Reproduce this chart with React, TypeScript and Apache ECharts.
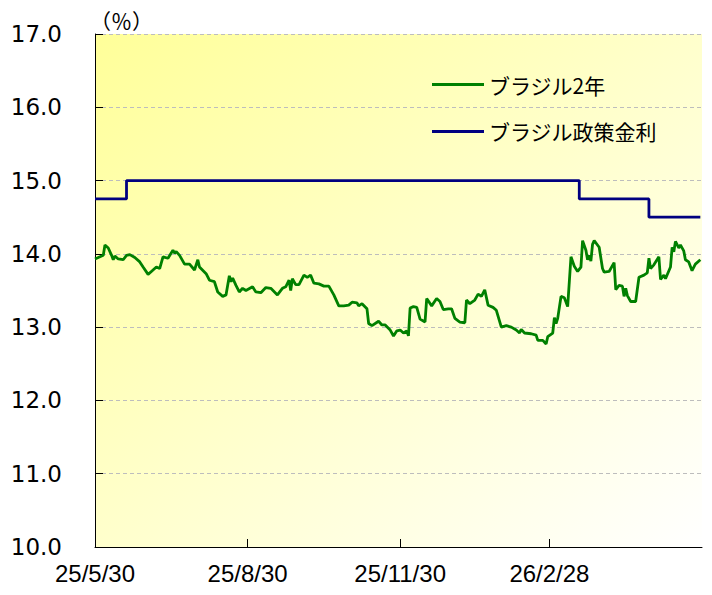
import React, { useEffect, useRef } from "react";
import * as echarts from "echarts";

const seriesNames = ["ブラジル2年", "ブラジル政策金利"];

const yieldDates = [
  "2025-05-30", "2025-06-04", "2025-06-05", "2025-06-07", "2025-06-09", "2025-06-10", "2025-06-11", "2025-06-13",
  "2025-06-16", "2025-06-18", "2025-06-20", "2025-06-23", "2025-06-26", "2025-06-28", "2025-07-01", "2025-07-03",
  "2025-07-06", "2025-07-08", "2025-07-10", "2025-07-13", "2025-07-16", "2025-07-17", "2025-07-18", "2025-07-20",
  "2025-07-23", "2025-07-26", "2025-07-29", "2025-07-31", "2025-08-01", "2025-08-05", "2025-08-07", "2025-08-10",
  "2025-08-12", "2025-08-15", "2025-08-17", "2025-08-19", "2025-08-20", "2025-08-21", "2025-08-23", "2025-08-25",
  "2025-08-27", "2025-08-29", "2025-09-02", "2025-09-04", "2025-09-07", "2025-09-10", "2025-09-13", "2025-09-17",
  "2025-09-20", "2025-09-22", "2025-09-24", "2025-09-25", "2025-09-26", "2025-09-28", "2025-09-30", "2025-10-03",
  "2025-10-05", "2025-10-07", "2025-10-09", "2025-10-12", "2025-10-15", "2025-10-18", "2025-10-21", "2025-10-24",
  "2025-10-27", "2025-10-30", "2025-11-01", "2025-11-04", "2025-11-05", "2025-11-07", "2025-11-10", "2025-11-11",
  "2025-11-13", "2025-11-17", "2025-11-19", "2025-11-21", "2025-11-24", "2025-11-26", "2025-11-28", "2025-11-30",
  "2025-12-02", "2025-12-04", "2025-12-05", "2025-12-06", "2025-12-08", "2025-12-10", "2025-12-12", "2025-12-15",
  "2025-12-16", "2025-12-19", "2025-12-22", "2025-12-24", "2025-12-26", "2025-12-29", "2025-12-31", "2026-01-02",
  "2026-01-05", "2026-01-08", "2026-01-09", "2026-01-11", "2026-01-14", "2026-01-16", "2026-01-18", "2026-01-20",
  "2026-01-22", "2026-01-25", "2026-01-27", "2026-01-30", "2026-02-02", "2026-02-05", "2026-02-08", "2026-02-10",
  "2026-02-11", "2026-02-13", "2026-02-17", "2026-02-20", "2026-02-21", "2026-02-24", "2026-02-26", "2026-02-27",
  "2026-03-02", "2026-03-03", "2026-03-04", "2026-03-05", "2026-03-07", "2026-03-09", "2026-03-11", "2026-03-13",
  "2026-03-15", "2026-03-17", "2026-03-19", "2026-03-20", "2026-03-22", "2026-03-23", "2026-03-24", "2026-03-25",
  "2026-03-26", "2026-03-27", "2026-03-30", "2026-04-01", "2026-04-02", "2026-04-05", "2026-04-08", "2026-04-09",
  "2026-04-11", "2026-04-13", "2026-04-14", "2026-04-15", "2026-04-16", "2026-04-18", "2026-04-21", "2026-04-23",
  "2026-04-26", "2026-04-28", "2026-04-29", "2026-04-30", "2026-05-02", "2026-05-05", "2026-05-06", "2026-05-08",
  "2026-05-09", "2026-05-12", "2026-05-13", "2026-05-14", "2026-05-15", "2026-05-17", "2026-05-18", "2026-05-20",
  "2026-05-21", "2026-05-23", "2026-05-25", "2026-05-27", "2026-05-30",
];

const yieldValues = [
  13.93, 13.98, 14.12, 14.08, 13.98, 13.92, 13.97, 13.93,
  13.92, 13.98, 13.99, 13.95, 13.89, 13.82, 13.72, 13.76,
  13.82, 13.80, 13.96, 13.94, 14.05, 14.01, 14.03, 13.98,
  13.86, 13.86, 13.78, 13.92, 13.82, 13.73, 13.64, 13.62,
  13.48, 13.42, 13.44, 13.70, 13.62, 13.67, 13.57, 13.48,
  13.53, 13.50, 13.55, 13.48, 13.47, 13.54, 13.53, 13.44,
  13.53, 13.55, 13.64, 13.50, 13.66, 13.58, 13.58, 13.71,
  13.68, 13.71, 13.60, 13.59, 13.56, 13.56, 13.44, 13.29,
  13.29, 13.30, 13.34, 13.33, 13.29, 13.32, 13.25, 13.05,
  13.02, 13.08, 13.03, 13.03, 12.96, 12.88, 12.95, 12.96,
  12.92, 12.95, 12.88, 13.26, 13.28, 13.27, 13.11, 13.07,
  13.39, 13.29, 13.39, 13.35, 13.24, 13.25, 13.25, 13.12,
  13.07, 13.06, 13.37, 13.32, 13.37, 13.45, 13.42, 13.51,
  13.30, 13.27, 13.23, 13.00, 13.02, 13.00, 12.96, 12.92,
  12.97, 12.92, 12.91, 12.89, 12.82, 12.82, 12.77, 12.87,
  12.92, 13.13, 13.05, 13.12, 13.42, 13.40, 13.28, 13.96,
  13.83, 13.76, 13.82, 14.18, 14.05, 13.92, 13.98, 13.90,
  14.13, 14.18, 14.09, 13.80, 13.75, 13.76, 13.88, 13.51,
  13.57, 13.56, 13.42, 13.53, 13.43, 13.35, 13.35, 13.68,
  13.71, 13.74, 13.94, 13.80, 13.85, 13.96, 13.65, 13.71,
  13.66, 13.82, 14.09, 14.03, 14.17, 14.08, 14.12, 14.04,
  13.92, 13.89, 13.77, 13.86, 13.92,
];

const policyDates = ["2025-05-30", "2025-06-18", "2026-03-18", "2026-04-29", "2026-05-30"];
const policyValues = [14.75, 15.0, 14.75, 14.5, 14.5];

const xTickDates = ["2025-05-30", "2025-08-30", "2025-11-30", "2026-02-28"];
const xRange = ["2025-05-30", "2026-05-31"];
const yRange = [10, 17];
const yInterval = 1;
const unitLabel = "（％）";

const ts = (s: string) => {
  const [y, m, d] = s.split("-").map(Number);
  return new Date(y, m - 1, d).getTime();
};

const fmtDate = (v: number) => {
  const d = new Date(v);
  return `${String(d.getFullYear()).slice(2)}/${d.getMonth() + 1}/${d.getDate()}`;
};

export default function App() {
  const ref = useRef<HTMLDivElement>(null);

  useEffect(() => {
    if (!ref.current) return;
    const chart = echarts.init(ref.current, null, { renderer: "svg" });
    const tickVals = xTickDates.map(ts);
    chart.setOption({
      animation: false,
      grid: {
        left: 95,
        right: 10,
        top: 34,
        bottom: 48,
        show: true,
        borderWidth: 0,
        backgroundColor: new echarts.graphic.LinearGradient(0, 0, 1, 1, [
          { offset: 0, color: "#FFFF99" },
          { offset: 1, color: "#FFFFFF" },
        ]),
      },
      legend: {
        orient: "vertical",
        left: 427,
        top: 69,
        icon: "rect",
        itemWidth: 52,
        itemHeight: 3,
        itemGap: 26,
        textStyle: { fontFamily: "Noto Sans CJK JP", fontSize: 21, color: "#000" },
        data: seriesNames,
      },
      graphic: [
        {
          type: "text",
          left: 90,
          top: 9,
          style: { text: unitLabel, fontFamily: "Noto Sans CJK JP", fontSize: 21, fill: "#000" },
        },
      ],
      xAxis: {
        type: "value",
        min: ts(xRange[0]),
        max: ts(xRange[1]),
        axisLine: { show: true, lineStyle: { color: "#000", width: 1 } },
        axisTick: {
          show: true,
          inside: true,
          length: 8,
          lineStyle: { color: "#000" },
          customValues: tickVals,
        },
        axisLabel: {
          customValues: tickVals,
          formatter: (v: number) => fmtDate(v),
          fontFamily: "Liberation Sans",
          fontSize: 24,
          color: "#000",
          margin: 14,
        },
        splitLine: { show: false },
      },
      yAxis: {
        type: "value",
        min: yRange[0],
        max: yRange[1],
        interval: yInterval,
        axisLine: { show: true, lineStyle: { color: "#000", width: 1 } },
        axisTick: { show: true, inside: true, length: 8, lineStyle: { color: "#000" } },
        axisLabel: {
          formatter: (v: number) => v.toFixed(1),
          fontFamily: "DejaVu Sans",
          fontSize: 23,
          color: "#000",
          margin: 33,
        },
        splitLine: { show: true, lineStyle: { color: "#BDBDBD", type: [4, 3], width: 1 } },
      },
      series: [
        {
          name: seriesNames[0],
          type: "line",
          symbol: "none",
          showSymbol: false,
          lineStyle: { color: "#008000", width: 2.8 },
          itemStyle: { color: "#008000" },
          data: yieldDates.map((d, i) => [ts(d), yieldValues[i]]),
          z: 3,
        },
        {
          name: seriesNames[1],
          type: "line",
          symbol: "none",
          showSymbol: false,
          step: "end",
          lineStyle: { color: "#000080", width: 2.8 },
          itemStyle: { color: "#000080" },
          data: policyDates.map((d, i) => [ts(d), policyValues[i]]),
          z: 2,
        },
      ],
    });
    return () => chart.dispose();
  }, []);

  return <div ref={ref} style={{ width: 712, height: 595, margin: -8 }} />;
}
